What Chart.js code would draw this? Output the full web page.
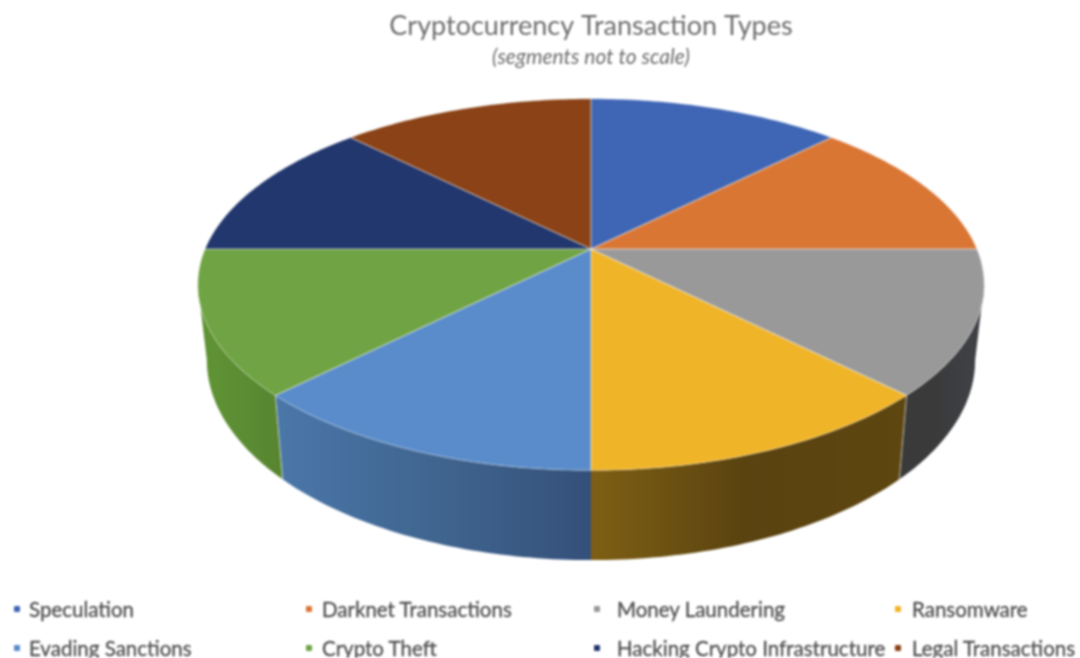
<!DOCTYPE html>
<html>
<head>
<meta charset="utf-8">
<title>Cryptocurrency Transaction Types</title>
<script src="https://cdn.jsdelivr.net/npm/chart.js@4/dist/chart.umd.min.js"></script>
<style>
    html, body { margin: 0; padding: 0; background: #fff; }
    #wrap { position: relative; width: 1080px; height: 658px; overflow: hidden; filter: blur(0.9px); }
    .legend-item { position: absolute; font-family: Lato, sans-serif; font-size: 20.5px; line-height: 22px; color: #4f4f4f; -webkit-text-stroke: 0.3px #4f4f4f; white-space: nowrap; }
    .legend-mark { position: absolute; width: 6px; height: 6px; border-radius: 1px; }
</style>
</head>
<body>
<div id="wrap">
    <canvas id="pieChart" width="1080" height="658"></canvas>
</div>
<script>
// Every slice is the same size, the source says "segments not to scale"
const categories = ['Speculation', 'Darknet Transactions', 'Money Laundering', 'Ransomware',
    'Evading Sanctions', 'Crypto Theft', 'Hacking Crypto Infrastructure', 'Legal Transactions'];
const sliceValues = [1, 1, 1, 1, 1, 1, 1, 1];
const sliceColors = ['#3F66B5', '#DA7634', '#999999', '#F0B429', '#5A8CCB', '#6FA343', '#22376E', '#8A4216'];

// wall shading, left to right: grey, yellow, light blue, green. Back slices have no visible wall
const wallColors = {
    2: ['#3A3A3A', '#3A3A3A', '#3E4044'],
    3: ['#7E5F14', '#5A4310', '#5E4610'],
    4: ['#4A76A8', '#40658F', '#34507A'],
    5: ['#5F9135', '#5B8B33', '#578430']
};

// Perspective of the disc: top rim and bottom rim
const tilt = -0.1914;
const xStretch = 2.156;
const topRim = { ax: 1, ay: 1, dy: 0 };
const bottomRim = { ax: 0.977, ay: 1.077, dy: 72.7 };
// where the disc outline leaves the top rim, measured from the horizontal
const outlineAngle = 0.193;

// legend columns: [marker x, text x] per column
const legendCols = [[14, 29], [306, 322], [594, 617], [895, 912]];
const legendRows = [598, 637];

function project(el, angle, rim, frac) {
    const u = Math.cos(angle) * frac;
    const v = Math.sin(angle) * frac;
    const w = 1 + tilt * v;
    return {
        x: el.x + el.outerRadius * xStretch * rim.ax * u / w,
        y: el.y + rim.dy + el.outerRadius * rim.ay * v / w
    };
}

function traceRim(ctx, el, from, to, rim) {
    const steps = 48;
    for (let i = 0; i <= steps; i++) {
        const a = from + (to - from) * i / steps;
        const p = project(el, a, rim, 1);
        ctx.lineTo(p.x, p.y);
    }
}

const pie3d = {
    id: 'pie3d',
    beforeDatasetsDraw(chart) {
        const ctx = chart.ctx;
        const arcs = chart.getDatasetMeta(0).data;

        // side walls first, the top covers whatever is behind it
        arcs.forEach((el, i) => {
            if (!wallColors[i]) return;
            const start = project(el, el.startAngle, bottomRim, 1);
            const end = project(el, el.endAngle, bottomRim, 1);
            const left = Math.min(start.x, end.x);
            const right = Math.max(start.x, end.x);
            const grad = ctx.createLinearGradient(left, 0, right, 0);
            grad.addColorStop(0, wallColors[i][0]);
            grad.addColorStop(0.5, wallColors[i][1]);
            grad.addColorStop(1, wallColors[i][2]);
            // bottom rim stops at the outline so the side edge is straight
            const from = Math.max(el.startAngle, outlineAngle);
            const to = Math.min(el.endAngle, Math.PI - outlineAngle);
            ctx.beginPath();
            traceRim(ctx, el, from, to, topRim);
            traceRim(ctx, el, to, from, bottomRim);
            ctx.closePath();
            ctx.fillStyle = grad;
            ctx.fill();
        });

        // seams between the walls
        ctx.strokeStyle = 'rgba(255,255,255,0.55)';
        ctx.lineWidth = 1;
        [3, 5].forEach(i => {
            const a = arcs[i].startAngle;
            const p1 = project(arcs[i], a, topRim, 1);
            const p2 = project(arcs[i], a, bottomRim, 1);
            ctx.beginPath();
            ctx.moveTo(p1.x, p1.y);
            ctx.lineTo(p2.x, p2.y);
            ctx.stroke();
        });

        // top face
        arcs.forEach((el, i) => {
            const c = project(el, 0, topRim, 0);
            ctx.beginPath();
            ctx.moveTo(c.x, c.y);
            traceRim(ctx, el, el.startAngle, el.endAngle, topRim);
            ctx.closePath();
            ctx.fillStyle = sliceColors[i];
            ctx.fill();
        });
        arcs.forEach(el => {
            const c = project(el, 0, topRim, 0);
            ctx.beginPath();
            ctx.moveTo(c.x, c.y);
            traceRim(ctx, el, el.startAngle, el.endAngle, topRim);
            ctx.closePath();
            ctx.strokeStyle = 'rgba(255,255,255,0.35)';
            ctx.lineWidth = 1;
            ctx.stroke();
        });
        return false;
    }
};

const chart = new Chart(document.getElementById('pieChart').getContext('2d'), {
    type: 'pie',
    data: {
        labels: categories,
        datasets: [{ data: sliceValues, backgroundColor: sliceColors, borderWidth: 0 }]
    },
    options: {
        responsive: false,
        animation: false,
        layout: { padding: { left: 102, bottom: 230 } },
        plugins: {
            legend: { display: false },
            tooltip: { enabled: false },
            title: {
                display: true,
                text: 'Cryptocurrency Transaction Types',
                color: '#6e6e6e',
                font: { family: 'Lato', size: 27, weight: 'normal' },
                padding: { top: 10, bottom: 2 }
            },
            subtitle: {
                display: true,
                text: '(segments not to scale)',
                color: '#6e6e6e',
                font: { family: 'Lato', size: 21, style: 'italic', weight: 'normal' },
                padding: { top: 0, bottom: 0.4 }
            }
        }
    },
    plugins: [pie3d]
});

// Legend sits on a fixed four column grid, which the built in one can't do
const wrap = document.getElementById('wrap');
categories.forEach((name, i) => {
    const col = legendCols[i % 4];
    const top = legendRows[Math.floor(i / 4)];
    const mark = document.createElement('div');
    mark.className = 'legend-mark';
    mark.style.left = col[0] + 'px';
    mark.style.top = (top + 8) + 'px';
    mark.style.background = sliceColors[i];
    wrap.appendChild(mark);
    const item = document.createElement('div');
    item.className = 'legend-item';
    item.style.left = col[1] + 'px';
    item.style.top = top + 'px';
    item.innerText = name;
    wrap.appendChild(item);
});
</script>
</body>
</html>
